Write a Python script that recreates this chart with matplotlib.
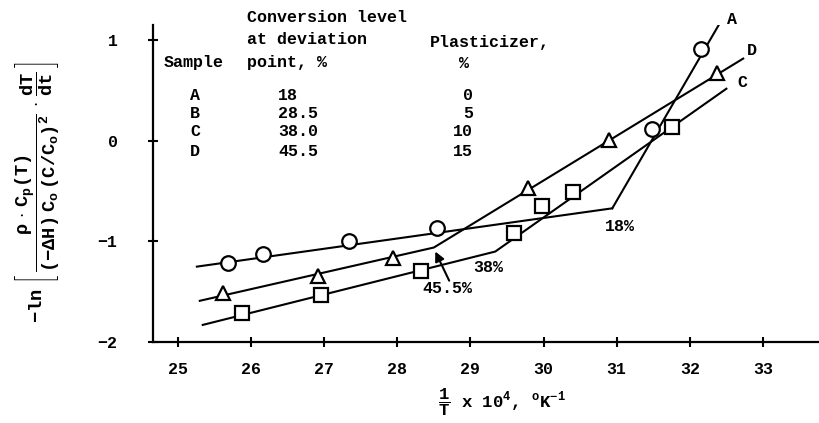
import matplotlib
matplotlib.use('Agg')
import matplotlib.pyplot as plt

plt.rcParams['font.family'] = 'Liberation Mono'
plt.rcParams['font.weight'] = 'bold'
plt.rcParams['mathtext.fontset'] = 'custom'
plt.rcParams['mathtext.rm'] = 'Liberation Mono:bold'
plt.rcParams['mathtext.it'] = 'Liberation Mono:bold'
plt.rcParams['mathtext.bf'] = 'Liberation Mono:bold'

# measured points (1/T x 10^4 vs -ln[...])
a_x = [25.68, 26.16, 27.34, 28.54, 31.48, 32.15]
a_y = [-1.21, -1.12, -1.00, -0.87, 0.12, 0.92]
d_x = [25.62, 26.92, 27.94, 29.79, 30.90, 32.37]
d_y = [-1.51, -1.34, -1.16, -0.47, 0.01, 0.68]
c_x = [25.88, 26.96, 28.32, 29.60, 29.98, 30.40, 31.76]
c_y = [-1.71, -1.53, -1.29, -0.92, -0.65, -0.51, 0.14]

# fitted straight lines, broken at the deviation point
a_line_x = [25.26, 30.94, 32.44]
a_line_y = [-1.25, -0.67, 1.21]
d_line_x = [25.30, 28.50, 32.73]
d_line_y = [-1.59, -1.06, 0.82]
c_line_x = [25.34, 29.34, 32.50]
c_line_y = [-1.83, -1.10, 0.52]

# table
samples = ['A', 'B', 'C', 'D']
conversion = ['18', '28.5', '38.0', '45.5']
plasticizer = ['0', '5', '10', '15']

W, H = 820, 423
fig = plt.figure(figsize=(W / 100, H / 100), dpi=100)
ax = fig.add_axes([153 / W, 81 / H, 667 / W, 317 / H])

lw = 1.5
ax.plot(a_line_x, a_line_y, color='k', lw=lw, zorder=2)
ax.plot(d_line_x, d_line_y, color='k', lw=lw, zorder=2)
ax.plot(c_line_x, c_line_y, color='k', lw=lw, zorder=2)

mk = dict(ls='none', mfc='white', mec='k', mew=1.6, zorder=3)
ax.plot(a_x, a_y, marker='o', ms=10.5, **mk)
ax.plot(d_x, d_y, marker='^', ms=10.5, **mk)
ax.plot(c_x, c_y, marker='s', ms=10.5, **mk)

ax.text(32.58, 1.21, 'A', fontsize=12, ha='center', va='center')
ax.text(32.85, 0.90, 'D', fontsize=12, ha='center', va='center')
ax.text(32.72, 0.58, 'C', fontsize=12, ha='center', va='center')

ax.annotate('18%', xy=(30.94, -0.67), xytext=(31.05, -0.85),
            fontsize=12, ha='center', va='center',
            arrowprops=dict(arrowstyle='-', lw=1.5, color='k', shrinkA=6, shrinkB=0))
ax.text(29.24, -1.26, '38%', fontsize=12, ha='center', va='center')
ax.annotate('', xy=(28.52, -1.10), xytext=(28.71, -1.39),
            arrowprops=dict(arrowstyle='-|>', lw=1.5, color='k', mutation_scale=14,
                            shrinkA=0, shrinkB=0))
ax.text(28.68, -1.47, '45.5%', fontsize=12, ha='center', va='center')

ax.set_xlim(24.66, 33.78)
ax.set_ylim(-2, 1.154)
ax.set_xticks(range(25, 34))
ax.set_yticks([-2, -1, 0, 1])
ax.set_yticklabels(['\u22122', '\u22121', '0', '1'])
for s in ['top', 'right']:
    ax.spines[s].set_visible(False)
for s in ['left', 'bottom']:
    ax.spines[s].set_linewidth(1.6)
ax.tick_params(axis='both', direction='inout', length=7, width=1.5, labelsize=12)
ax.tick_params(axis='y', pad=22)
ax.tick_params(axis='x', pad=11)


def ftext(x, y, s, **kw):
    fig.text(x / W, 1 - y / H, s, fontsize=12, va='center', **kw)


ftext(247, 17, 'Conversion level')
ftext(247, 40, 'at deviation')
ftext(247, 63, 'point, %')
ftext(164, 63, 'Sample')
ftext(430, 43, 'Plasticizer,')
ftext(464, 63, '%', ha='center')
rows_y = [96, 114, 132, 151]
for yy, s, c, p in zip(rows_y, samples, conversion, plasticizer):
    ftext(190, yy, s)
    ftext(278, yy, c)
    ftext(473, yy, p, ha='right')

fig.text(502 / W, 1 - 402 / H, r'$\dfrac{1}{T}$ x 10$^4$, $^{o}$K$^{-1}$',
         fontsize=12.5, ha='center', va='center')
fig.text(38 / W, 1 - 192 / H,
         r'$-\ln\ \left[\ \dfrac{\rho\ \cdot\ C_p(T)}{(-\Delta H)\ C_o\ (C/C_o)^2}\ \cdot\ \dfrac{dT}{dt}\ \right]$',
         fontsize=13.5, rotation=90, ha='center', va='center')

fig.savefig('out.png', dpi=100)
